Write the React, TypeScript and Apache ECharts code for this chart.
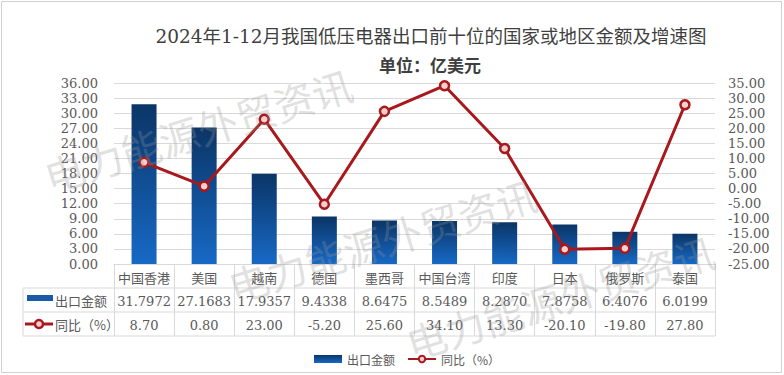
import React, { useEffect, useRef } from "react";
import * as echarts from "echarts";

const titleText = "2024年1-12月我国低压电器出口前十位的国家或地区金额及增速图";
const subtitleText = "单位：亿美元";
const categories = ["中国香港", "美国", "越南", "德国", "墨西哥", "中国台湾", "印度", "日本", "俄罗斯", "泰国"];
const exportAmounts = [31.7972, 27.1683, 17.9357, 9.4338, 8.6475, 8.5489, 8.287, 7.8758, 6.4076, 6.0199];
const growthRates = [8.7, 0.8, 23.0, -5.2, 25.6, 34.1, 13.3, -20.1, -19.8, 27.8];
const amountName = "出口金额";
const growthName = "同比（%）";
const leftAxisRange = [0, 36, 3];
const rightAxisRange = [-25, 35, 5];
const watermarkText = "电力能源外贸资讯";

const SERIF = "'DejaVu Serif', 'Noto Sans CJK SC', serif";
const CJK = "'Noto Sans CJK SC', sans-serif";
const TEXT = "#595959";
const LINE = "#d9d9d9";
const RED = "#a8181c";

export default function App() {
  const ref = useRef<HTMLDivElement>(null);
  useEffect(() => {
    if (!ref.current) return;
    const chart = echarts.init(ref.current, null, { renderer: "svg" });
    const gL = 114, gR = 715, gT = 83, gB = 264;
    const rowH = 24;
    const barGrad = new echarts.graphic.LinearGradient(0, 0, 0, 1, [
      { offset: 0, color: "#0b3566" },
      { offset: 1, color: "#1769c6" },
    ]);
    const hLines = [1, 2, 3].map((i) => ({
      type: "line",
      shape: { x1: 23, y1: gB + rowH * i, x2: gR, y2: gB + rowH * i },
      style: { stroke: LINE, lineWidth: 1 },
    }));
    const watermarks = [
      [198, 130],
      [382, 240],
      [560, 297],
    ].map(([x, y]) => ({
      type: "text",
      x,
      y,
      rotation: 0.3,
      z: 100,
      silent: true,
      style: {
        text: watermarkText,
        font: `40px ${CJK}`,
        fill: "rgba(150,150,150,0.3)",
        align: "center",
        verticalAlign: "middle",
      },
    }));
    const baseAxis = (data: string[], offset: number, fontFamily: string) => ({
      type: "category",
      data,
      position: "bottom",
      offset,
      gridIndex: 0,
      axisLine: { show: offset === 0, lineStyle: { color: LINE } },
      axisTick: offset === 0
        ? { show: true, length: rowH * 3, lineStyle: { color: LINE } }
        : { show: false },
      splitLine: { show: false },
      axisLabel: {
        interval: 0,
        verticalAlign: "middle",
        margin: 13,
        color: TEXT,
        fontSize: 13,
        fontFamily,
      },
    });
    chart.setOption({
      animation: false,
      backgroundColor: "#ffffff",
      title: [
        {
          text: titleText,
          left: 426,
          textAlign: "center",
          top: 22,
          textStyle: { fontSize: 18.5, fontWeight: "normal", color: "#3f3f3f", fontFamily: SERIF },
        },
        {
          text: subtitleText,
          left: 425,
          textAlign: "center",
          top: 51,
          textStyle: { fontSize: 17, fontWeight: "bold", color: "#3f3f3f", fontFamily: CJK },
        },
      ],
      legend: {
        left: 309,
        top: 348,
        itemWidth: 28,
        itemHeight: 8,
        itemGap: 12,
        textStyle: { color: TEXT, fontSize: 12, fontFamily: CJK },
        data: [
          { name: amountName, icon: "rect" },
          { name: growthName },
        ],
      },
      grid: { left: gL, right: 784 - gR, top: gT, height: gB - gT },
      xAxis: [
        baseAxis(categories, 0, CJK),
        baseAxis(exportAmounts.map((v) => v.toFixed(4)), rowH, SERIF),
        baseAxis(growthRates.map((v) => v.toFixed(2)), rowH * 2, SERIF),
      ],
      yAxis: [
        {
          type: "value",
          min: leftAxisRange[0],
          max: leftAxisRange[1],
          interval: leftAxisRange[2],
          axisLine: { show: false },
          axisTick: { show: false },
          splitLine: { lineStyle: { color: LINE } },
          axisLabel: {
            margin: 16,
            color: TEXT,
            fontSize: 13,
            fontFamily: SERIF,
            formatter: (v: number) => v.toFixed(2),
          },
        },
        {
          type: "value",
          min: rightAxisRange[0],
          max: rightAxisRange[1],
          interval: rightAxisRange[2],
          position: "right",
          axisLine: { show: false },
          axisTick: { show: false },
          splitLine: { show: false },
          axisLabel: {
            margin: 13,
            color: TEXT,
            fontSize: 13,
            fontFamily: SERIF,
            formatter: (v: number) => v.toFixed(2),
          },
        },
      ],
      series: [
        {
          name: amountName,
          type: "bar",
          xAxisIndex: 0,
          yAxisIndex: 0,
          barWidth: 25,
          data: exportAmounts,
          itemStyle: { color: barGrad },
        },
        {
          name: growthName,
          type: "line",
          xAxisIndex: 0,
          yAxisIndex: 1,
          data: growthRates,
          symbol: "circle",
          symbolSize: 9,
          lineStyle: { color: RED, width: 3 },
          itemStyle: { color: "#f6d0d0", borderColor: RED, borderWidth: 2.5 },
          z: 5,
        },
      ],
      graphic: [
        {
          type: "rect",
          shape: { x: 1.5, y: 1.5, width: 780, height: 371 },
          style: { fill: "none", stroke: "#d0d0d0", lineWidth: 1 },
          silent: true,
        },
        ...hLines,
        {
          type: "line",
          shape: { x1: 23, y1: gB + rowH, x2: 23, y2: gB + rowH * 3 },
          style: { stroke: LINE, lineWidth: 1 },
        },
        {
          type: "rect",
          shape: { x: 27, y: gB + rowH * 1.5 - 5, width: 26, height: 6 },
          style: { fill: "#1a5aa6" },
        },
        {
          type: "text",
          x: 55,
          y: gB + rowH * 1.5,
          style: { text: amountName, font: `13px ${CJK}`, fill: TEXT, verticalAlign: "middle" },
        },
        {
          type: "line",
          shape: { x1: 25, y1: gB + rowH * 2.5, x2: 53, y2: gB + rowH * 2.5 },
          style: { stroke: RED, lineWidth: 3 },
        },
        {
          type: "circle",
          shape: { cx: 39, cy: gB + rowH * 2.5, r: 4 },
          style: { fill: "#f6d0d0", stroke: RED, lineWidth: 2.5 },
        },
        {
          type: "text",
          x: 55,
          y: gB + rowH * 2.5,
          style: { text: growthName, font: `13px ${CJK}`, fill: TEXT, verticalAlign: "middle" },
        },
        ...watermarks,
      ],
    });
    return () => chart.dispose();
  }, []);
  return (
    <div
      ref={ref}
      style={{ position: "absolute", left: 0, top: 0, width: 784, height: 375, background: "#fff" }}
    />
  );
}
